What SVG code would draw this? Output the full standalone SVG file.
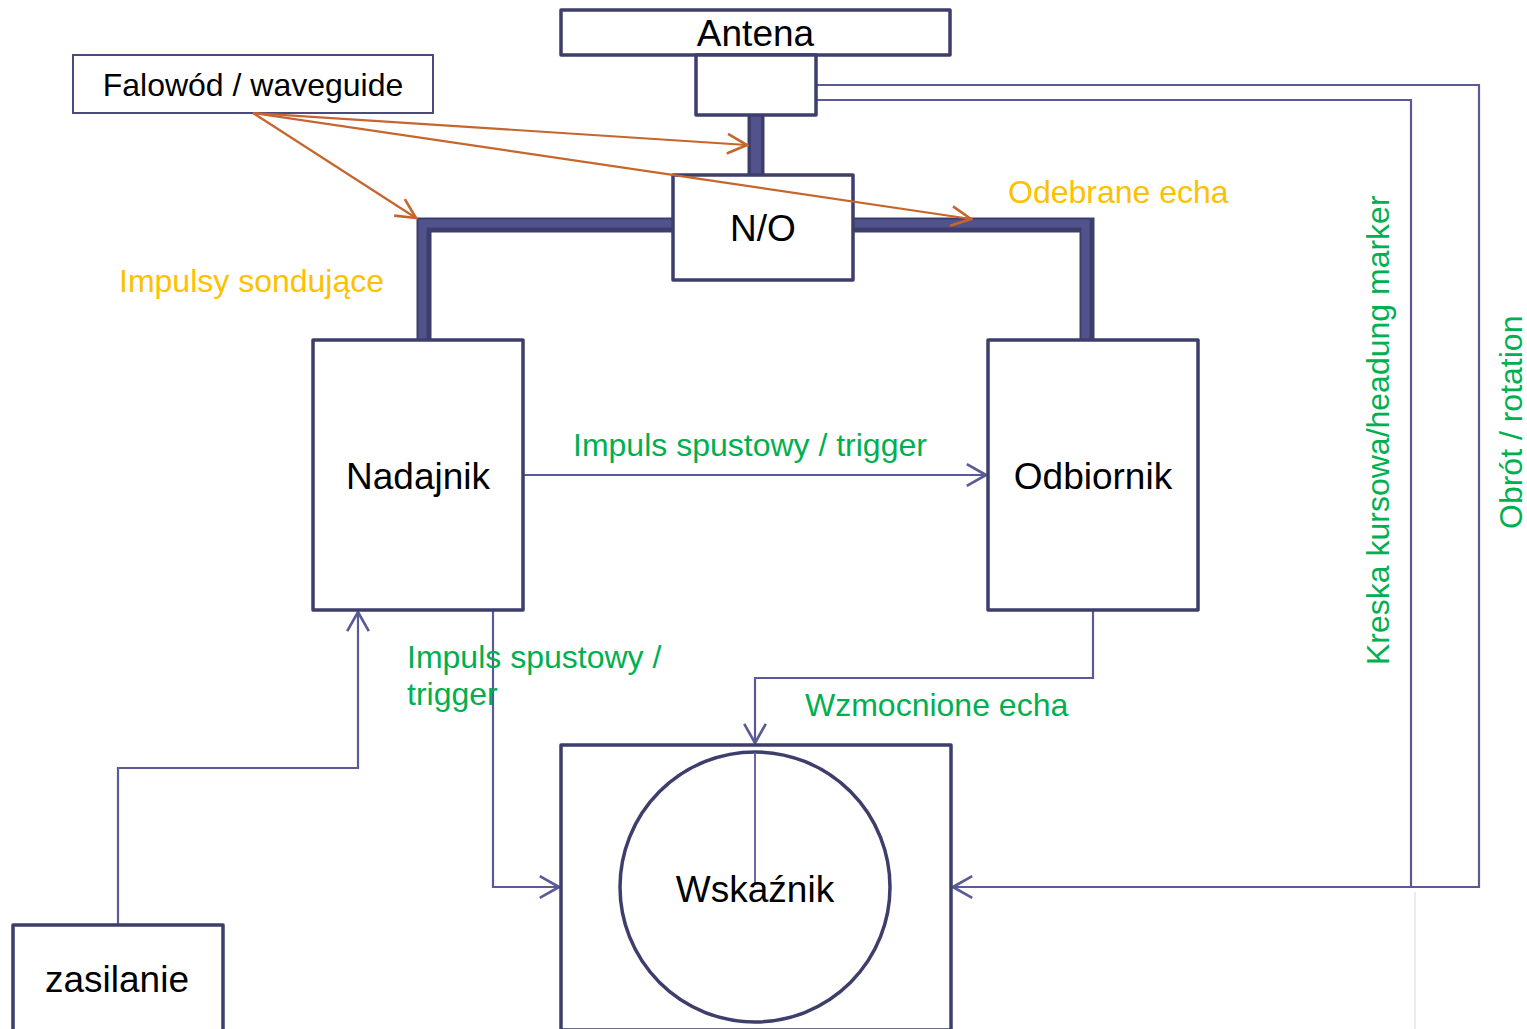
<svg xmlns="http://www.w3.org/2000/svg" width="1527" height="1029" viewBox="0 0 1527 1029">
  <style>
    .box { fill: #ffffff; stroke: #3e3e6c; stroke-width: 3.5; stroke-linejoin: round; }
    .thin-box { fill: #ffffff; stroke: #4a4a7c; stroke-width: 2; }
    .node-label { font-family: "Liberation Sans", Arial, sans-serif; font-size: 37px; fill: #000000; text-anchor: middle; }
    .small-label { font-family: "Liberation Sans", Arial, sans-serif; font-size: 32px; fill: #000000; text-anchor: middle; }
    .yellow { font-family: "Liberation Sans", Arial, sans-serif; font-size: 32px; fill: #ffc000; }
    .green { font-family: "Liberation Sans", Arial, sans-serif; font-size: 32px; fill: #00b050; }
    .wg-outer { fill: none; stroke: #3e3e6c; stroke-width: 15; stroke-linejoin: miter; }
    .wg-inner { fill: none; stroke: #52528c; stroke-width: 8; stroke-linejoin: miter; }
    .signal { fill: none; stroke: #5a5a96; stroke-width: 2.2; }
    .signal-arrow { fill: none; stroke: #5a5a96; stroke-width: 2.2; marker-end: url(#openBlue); }
    .feed { fill: none; stroke: #c6652c; stroke-width: 2.2; marker-end: url(#openOrange); }
  </style>
  <defs>
    <marker id="openBlue" markerUnits="userSpaceOnUse" markerWidth="24" markerHeight="24" viewBox="-18 -10 20 20" refX="0" refY="0" orient="auto">
      <path d="M-16,-9 L0,0 L-16,9" fill="none" stroke="#5a5a96" stroke-width="2.2"/>
    </marker>
    <marker id="openOrange" markerUnits="userSpaceOnUse" markerWidth="24" markerHeight="24" viewBox="-20 -10 22 20" refX="0" refY="0" orient="auto">
      <path d="M-18,-9 L0,0 L-18,9" fill="none" stroke="#c6652c" stroke-width="2.4"/>
    </marker>
  </defs>

  <rect width="1527" height="1029" fill="#ffffff"/>

  <!-- faint edge line near bottom right -->
  <line x1="1415" y1="892" x2="1415" y2="1029" stroke="#ececec" stroke-width="2"/>

  <!-- waveguide runs -->
  <g id="waveguides">
    <path class="wg-outer" d="M424,341 V225 H674"/>
    <path class="wg-inner" d="M422.5,341 V223.5 H674"/>
    <path class="wg-outer" d="M852,225 H1087 V341"/>
    <path class="wg-inner" d="M852,223.5 H1085.5 V341"/>
    <path class="wg-outer" d="M756,114 V176" style="stroke-width:17"/>
    <path class="wg-inner" d="M756,114 V176" style="stroke-width:10"/>
  </g>

  <!-- signal connectors -->
  <g id="connectors">
    <path class="signal-arrow" d="M523,475 H986"/>
    <path class="signal-arrow" d="M493,610 V887 H559"/>
    <path class="signal-arrow" d="M118,925 V768 H358 V612"/>
    <path class="signal-arrow" d="M1093,610 V678 H755 V743"/>
    <path class="signal" d="M816,100 H1411 V887"/>
    <path class="signal-arrow" d="M816,85 H1479 V887 H953"/>
  </g>

  <g id="antenna">
    <rect class="box" x="561" y="10" width="389" height="45"/>
    <text class="node-label" x="755.5" y="46">Antena</text>
  </g>
  <g id="pedestal">
    <rect class="box" x="696" y="55" width="120" height="60"/>
  </g>
  <g id="waveguide-label">
    <rect class="thin-box" x="73" y="55" width="360" height="58"/>
    <text class="small-label" x="253" y="96">Falowód / waveguide</text>
  </g>
  <g id="duplexer">
    <rect class="box" x="673" y="175" width="180" height="105"/>
    <text class="node-label" x="763" y="241">N/O</text>
  </g>
  <g id="transmitter">
    <rect class="box" x="313" y="340" width="210" height="270"/>
    <text class="node-label" x="418" y="489">Nadajnik</text>
  </g>
  <g id="receiver">
    <rect class="box" x="988" y="340" width="210" height="270"/>
    <text class="node-label" x="1093" y="489">Odbiornik</text>
  </g>
  <g id="indicator">
    <rect class="box" x="561" y="745" width="390" height="285"/>
    <circle cx="755" cy="887" r="135" fill="none" stroke="#3e3e6c" stroke-width="3.5"/>
    <line x1="755" y1="752" x2="755" y2="884" stroke="#5a5a96" stroke-width="1.8"/>
    <text class="node-label" x="755" y="902">Wskaźnik</text>
  </g>
  <g id="power">
    <rect class="box" x="13" y="925" width="210" height="106"/>
    <text class="node-label" x="117" y="992">zasilanie</text>
  </g>

  <!-- callout arrows from the waveguide label, drawn over the boxes -->
  <g id="waveguide-callouts">
    <path class="feed" d="M253,113 L416,218"/>
    <path class="feed" d="M253,113 L747,145"/>
    <path class="feed" d="M253,113 L971,219"/>
  </g>

  <!-- signal labels -->
  <g id="labels">
    <text class="yellow" x="119" y="292">Impulsy sondujące</text>
    <text class="yellow" x="1008" y="203">Odebrane echa</text>
    <text class="green" x="573" y="456">Impuls spustowy / trigger</text>
    <text class="green" x="407" y="668">Impuls spustowy /</text>
    <text class="green" x="407" y="705">trigger</text>
    <text class="green" x="805" y="716">Wzmocnione echa</text>
    <text class="green" transform="translate(1389,665) rotate(-90)">Kreska kursowa/headung marker</text>
    <text class="green" transform="translate(1522,529) rotate(-90)">Obrót / rotation</text>
  </g>
</svg>
